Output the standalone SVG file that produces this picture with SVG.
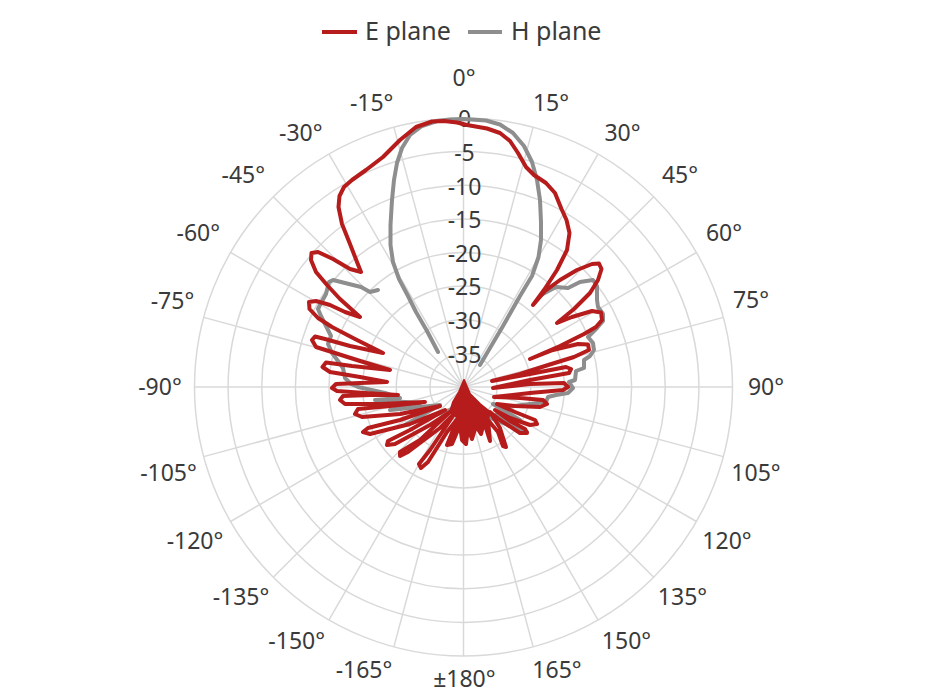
<svg xmlns="http://www.w3.org/2000/svg" width="930" height="696" viewBox="0 0 930 696">
<style>
.grid{fill:none;stroke:#d9d9d9;stroke-width:1.5}
.lbl{font-family:"Noto Sans","Liberation Sans",sans-serif;font-size:23px;fill:#3a3a3a;text-anchor:middle}
.leg{font-family:"Noto Sans","Liberation Sans",sans-serif;font-size:25px;fill:#3a3a3a}
.e{fill:none;stroke:#b71c1c;stroke-width:4;stroke-linejoin:round;stroke-linecap:round}
.h{fill:none;stroke:#8e8e8e;stroke-width:4;stroke-linejoin:round;stroke-linecap:round}
</style>
<rect width="930" height="696" fill="#ffffff"/>
<g id="grid">
<circle class="grid" cx="463.5" cy="387" r="33.6"/>
<circle class="grid" cx="463.5" cy="387" r="67.25"/>
<circle class="grid" cx="463.5" cy="387" r="100.9"/>
<circle class="grid" cx="463.5" cy="387" r="134.5"/>
<circle class="grid" cx="463.5" cy="387" r="168.1"/>
<circle class="grid" cx="463.5" cy="387" r="201.75"/>
<circle class="grid" cx="463.5" cy="387" r="235.4"/>
<circle class="grid" cx="463.5" cy="387" r="269"/>
<path class="grid" d="M463.5,118V656M533.12,127.17L393.88,646.83M598,154.04L329,619.96M653.71,196.79L273.29,577.21M696.46,252.5L230.54,521.5M723.33,317.38L203.67,456.62M732.5,387H194.5M723.33,456.62L203.67,317.38M696.46,521.5L230.54,252.5M653.71,577.21L273.29,196.79M598,619.96L329,154.04M533.12,646.83L393.88,127.17"/>
</g>
<g id="angle-labels" class="lbl">
<text x="464" y="86">0°</text>
<text x="551" y="111">15°</text>
<text x="622.5" y="140.5">30°</text>
<text x="680" y="183">45°</text>
<text x="724" y="241">60°</text>
<text x="751" y="308">75°</text>
<text x="766" y="395">90°</text>
<text x="756" y="481">105°</text>
<text x="727" y="549">120°</text>
<text x="682.5" y="605">135°</text>
<text x="626.5" y="649">150°</text>
<text x="557" y="678">165°</text>
<text x="464.4" y="687">±180°</text>
<text x="364" y="678">-165°</text>
<text x="296.7" y="649">-150°</text>
<text x="241" y="605">-135°</text>
<text x="195" y="549">-120°</text>
<text x="168.5" y="481">-105°</text>
<text x="160" y="395">-90°</text>
<text x="172.5" y="309">-75°</text>
<text x="198.3" y="241">-60°</text>
<text x="243.3" y="183">-45°</text>
<text x="300.8" y="140.5">-30°</text>
<text x="371.7" y="111">-15°</text>
</g>
<g id="ring-labels" class="lbl">
<text x="464.5" y="127.2">0</text>
<text x="464.5" y="160.8">-5</text>
<text x="464.5" y="194.5">-10</text>
<text x="464.5" y="228.1">-15</text>
<text x="464.5" y="261.7">-20</text>
<text x="464.5" y="295.3">-25</text>
<text x="464.5" y="329">-30</text>
<text x="464.5" y="362.6">-35</text>
</g>
<g id="h-plane">
<path class="h" d="M438,352L427,331L416,312L408,296L399,279L393,262L390.5,245L390.5,225L392,200L394,180L397,163L402,148L410,135L422,126L437,121L450,119.5L463.5,119L486,120.5L500,124.5L513,133L524,146L532,162L537,180L540,200L541,222L541,240L538.5,257L532,276L520,296L503,326L490,348L480,365"/>
<path class="h" d="M378,290L370,292L361,287L345,283L333,280L329,282L326,294L320,305L318,309L321,316L326,326L331,336L328,344L332,353L338,361L343,368L345,378L351,384L358,387L385,393L400,398L375,400L420,403L390,410L440,405L405,425L450,410L463,398"/>
<path class="h" d="M541,295L556,287L568,288L580,282L593,280L597,286L597,300L598,307L603,314L603,321L597,328L588,337L593,343L594,350L590,356L584,360L584,368L576,371L575,380L569,382L573,388L568,393L556,395L548,397L546,402L530,404L507,407L493,404L520,420L497,414L527,432L490,418L470,398"/>
</g>
<g id="e-plane">
<path fill="#b71c1c" stroke="#b71c1c" stroke-width="2" stroke-linejoin="round" d="M464,380L470,394L480,404L490,412L488,420L484,422L481,434L476,426L472,439L468,428L466,444L462,440L460,425L452,444L447,445L458,418L450,412L453,402L459,392Z"/>
<path class="e" d="M533,305L544,290L557,270L567,250L569.5,233L566.5,220L561.5,209L555,193L546,183L534,175L526,167L518,153L510,141L500,133L487,128.5L467,125L457,122.5L444,121L432,121.5L416,127L400,140L383,157L366,170L352,180L344,187L339.5,196L338.5,207L342,224L350,244L357,262L361,272L350,269L333,259L318,252L311.5,253L311,260L316,272L327,285L340,299L360,317L345,312L330,305L316,301L309,302L309.5,309L318,318L332,327L355,339L383,353L350,346L325,339L315,336.5L312,340L316,347L335,353L360,361L390,370L352,366L326,362.5L322.5,367L330,372L360,377L387,382L360,383L336,384L332,388L337,391L365,393L398,395L370,395L343,396L340,400L345,404L380,404L425,402L390,406L358,409L355,414L362,417L400,414L440,406L400,420L368,428L363,432L370,434L410,424L445,410L410,430L388,441L387,445L395,444L430,425L450,412L420,440L400,452L400,456L408,452L440,428L455,413L430,450L419,464L421,468L428,462L447,432L458,418L447,445L452,444L460,425L462,440L466,444L468,428L472,439L476,426L481,434L484,422L490,441L488,420L498,432L503,446L506,447L500,428L490,412L500,420L520,433L527,433L525,429L510,421L495,410L510,418L530,425L537,424L535,420L515,412L497,404L515,406L540,407L547,404L543,400L520,398L494,397L530,393L563,390L568,387L564,383L530,384L493,388L530,380L569,373L571,369L566,367L530,374L492,381L520,374L545,366L574,357L589,350L588,344.5L578,344L553,350L530,359L560,346L584,334L596,327L602,320L601,312.5L592,311L572,317L557,323L574,309L590,293L598,280L601.5,269L599,263.5L592,264L577,270L560,280L545,291Z"/>
</g>
<g id="legend">
<line x1="322" y1="32" x2="357" y2="32" stroke="#b71c1c" stroke-width="4"/>
<text class="leg" x="365" y="40">E plane</text>
<line x1="468" y1="32" x2="502" y2="32" stroke="#8e8e8e" stroke-width="4"/>
<text class="leg" x="511" y="40">H plane</text>
</g>
</svg>
